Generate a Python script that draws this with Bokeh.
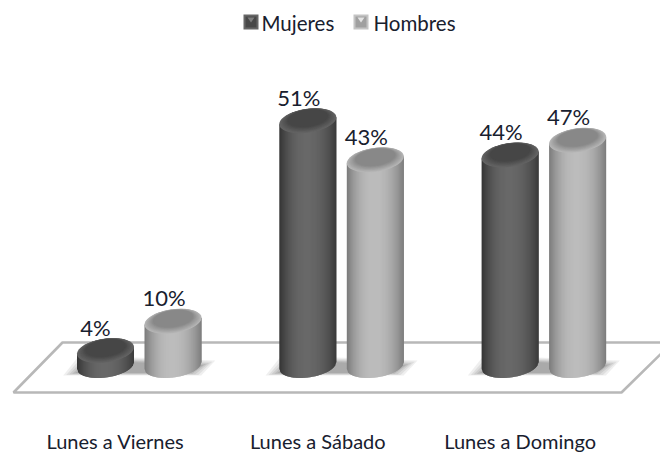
from bokeh.plotting import figure
from bokeh.embed import file_html
from bokeh.resources import INLINE
from bokeh.models import Range1d, FixedTicker
from bokeh.core.properties import value
import numpy as np

categories = ["Lunes a Viernes", "Lunes a Sábado", "Lunes a Domingo"]
mujeres = [4, 51, 44]
hombres = [10, 43, 47]
series_names = ["Mujeres", "Hombres"]

FONT = "Lato"
TXT = "#18202e"

# reference-pixel geometry
OX, OY = 0, 0
FW, FH = 660, 416
PX_PER_VAL = 4.89
Y0 = 371.6            # reference pixel of value 0
X0, DX = 115.0, 202.3 # reference pixel of category 0 and spacing


def xd(px):
    return (np.asarray(px, float) - X0) / DX


def yd(py):
    return (Y0 - np.asarray(py, float)) / PX_PER_VAL


p = figure(width=FW, height=455, frame_width=FW, frame_height=FH,
           output_backend="svg", toolbar_location=None,
           x_range=Range1d(float(xd(OX)), float(xd(OX + FW))),
           y_range=Range1d(float(yd(OY + FH)), float(yd(OY))),
           min_border=0, outline_line_color=None, background_fill_color="white",
           border_fill_color="white")
p.grid.visible = False
p.yaxis.visible = False
ax = p.xaxis[0]
ax.ticker = FixedTicker(ticks=list(range(len(categories))))
ax.major_label_overrides = {i: c for i, c in enumerate(categories)}
ax.axis_line_color = None
ax.major_tick_line_color = None
ax.minor_tick_line_color = None
ax.major_label_text_font = FONT
ax.major_label_text_font_size = "20px"
ax.major_label_text_color = TXT
ax.major_label_standoff = 6

# floor
fx = [13, 62, 672, 621, 13]
fy = [392, 342, 342, 392, 392]
p.patch(xd(fx), yd(fy), fill_color="#ffffff", line_color="#b8b8b8", line_width=2.6)


def shade(t, edge_l, mid, edge_r):
    c = -0.05
    if t < c:
        f = ((c - t) / (1 + c)) ** 2.2
        return tuple(mid[i] + (edge_l[i] - mid[i]) * f for i in range(3))
    f = ((t - c) / (1 - c)) ** 2.2
    return tuple(mid[i] + (edge_r[i] - mid[i]) * f for i in range(3))


def hexc(c):
    return "#%02x%02x%02x" % tuple(int(round(max(0, min(255, v)))) for v in c)


RX, RY, TILT = 28.5, 12.0, -0.12
BASE = 365.0


def shadow(gc):
    # soft parallelogram behind a pair of cylinders
    for grow, alpha in [(0, .09), (-3, .10), (-6, .12), (-9, .14), (-12, .16)]:
        xs = [gc - 76 - grow, gc - 60 - grow, gc + 76 + grow, gc + 62 + grow]
        ys = [375 + grow * .2, 355 - grow * .4, 360 - grow * .4, 375 + grow * .2]
        p.patch(xd(xs), yd(ys), fill_color="#505050", fill_alpha=alpha, line_color=None)


def cylinder(cx, v, edge_l, mid, edge_r, cap_out, cap_in):
    top = Y0 - PX_PER_VAL * v - 2
    step = 1.0
    edges = np.arange(-RX, RX - 0.01, step)
    low = lambda d: BASE + TILT * d + RY * np.sqrt(max(0, 1 - (d / RX) ** 2))
    for a in edges:
        b = min(a + step + 1.0, RX)   # each strip runs under the next one
        col = hexc(shade((a + step / 2) / RX, edge_l, mid, edge_r))
        xs = [cx + a, cx + b, cx + b, cx + a]
        ys = [top + TILT * a, top + TILT * b, low(b), low(a)]
        p.patch(xd(xs), yd(ys), fill_color=col, line_color=None)
    th = np.linspace(0, 2 * np.pi, 60)
    n = 12
    for i in range(n):
        f = i / (n - 1)
        s = 1 - 0.3 * f
        yoff = -2.5 * f
        col = hexc(tuple(cap_out[j] + (cap_in[j] - cap_out[j]) * f for j in range(3)))
        dx = RX * s * np.cos(th)
        ex = cx + dx
        ey = top + yoff + TILT * dx + RY * s * np.sin(th)
        p.patch(xd(ex), yd(ey), fill_color=col, line_color=None)


DARK = dict(edge_l=(52, 52, 52), mid=(104, 104, 104), edge_r=(58, 58, 58),
            cap_out=(100, 100, 100), cap_in=(70, 70, 70))
LIGHT = dict(edge_l=(122, 122, 122), mid=(188, 188, 188), edge_r=(124, 124, 124),
             cap_out=(182, 182, 182), cap_in=(136, 136, 136))

M_X = [105 + DX * i for i in range(3)]
H_X = [172.5 + DX * i for i in range(3)]

for mx, hx in zip(M_X, H_X):
    shadow((mx + hx) / 2)

for cx, v in zip(M_X, mujeres):
    cylinder(cx, v, **DARK)
for cx, v in zip(H_X, hombres):
    cylinder(cx, v, **LIGHT)

# data labels
lab_x = list(M_X) + list(H_X)
lab_v = mujeres + hombres
p.text(xd([x - 10 if v < 9 else x - 9 for x, v in zip(lab_x, lab_v)]),
       yd([Y0 - PX_PER_VAL * v - 2 - 10 for v in lab_v]),
       text=[f"{v}%" for v in lab_v],
       text_font=value(FONT), text_font_size="22px", text_color=TXT,
       text_align="center", text_baseline="bottom")

# legend
for sx, name, tx, c_o, c_i, tri in [
        (243, series_names[0], 261, "#666666", "#484848", "#7e7e7e"),
        (353, series_names[1], 373, "#c4c4c4", "#a0a0a0", "#e4e4e4")]:
    p.quad(left=float(xd(sx)), right=float(xd(sx + 15)),
           top=float(yd(14)), bottom=float(yd(29)), fill_color=c_o, line_color=None)
    p.quad(left=float(xd(sx + 2)), right=float(xd(sx + 13)),
           top=float(yd(16)), bottom=float(yd(27)), fill_color=c_i, line_color=None)
    p.patch(xd([sx + 4, sx + 11, sx + 7.5]), yd([17, 17, 22]), fill_color=tri, line_color=None)
    p.text([float(xd(tx))], [float(yd(22))], text=[name], text_font=value(FONT),
           text_font_size="20.5px", text_color=TXT, text_align="left", text_baseline="middle")

open("out.html", "w").write(file_html(p, INLINE))
